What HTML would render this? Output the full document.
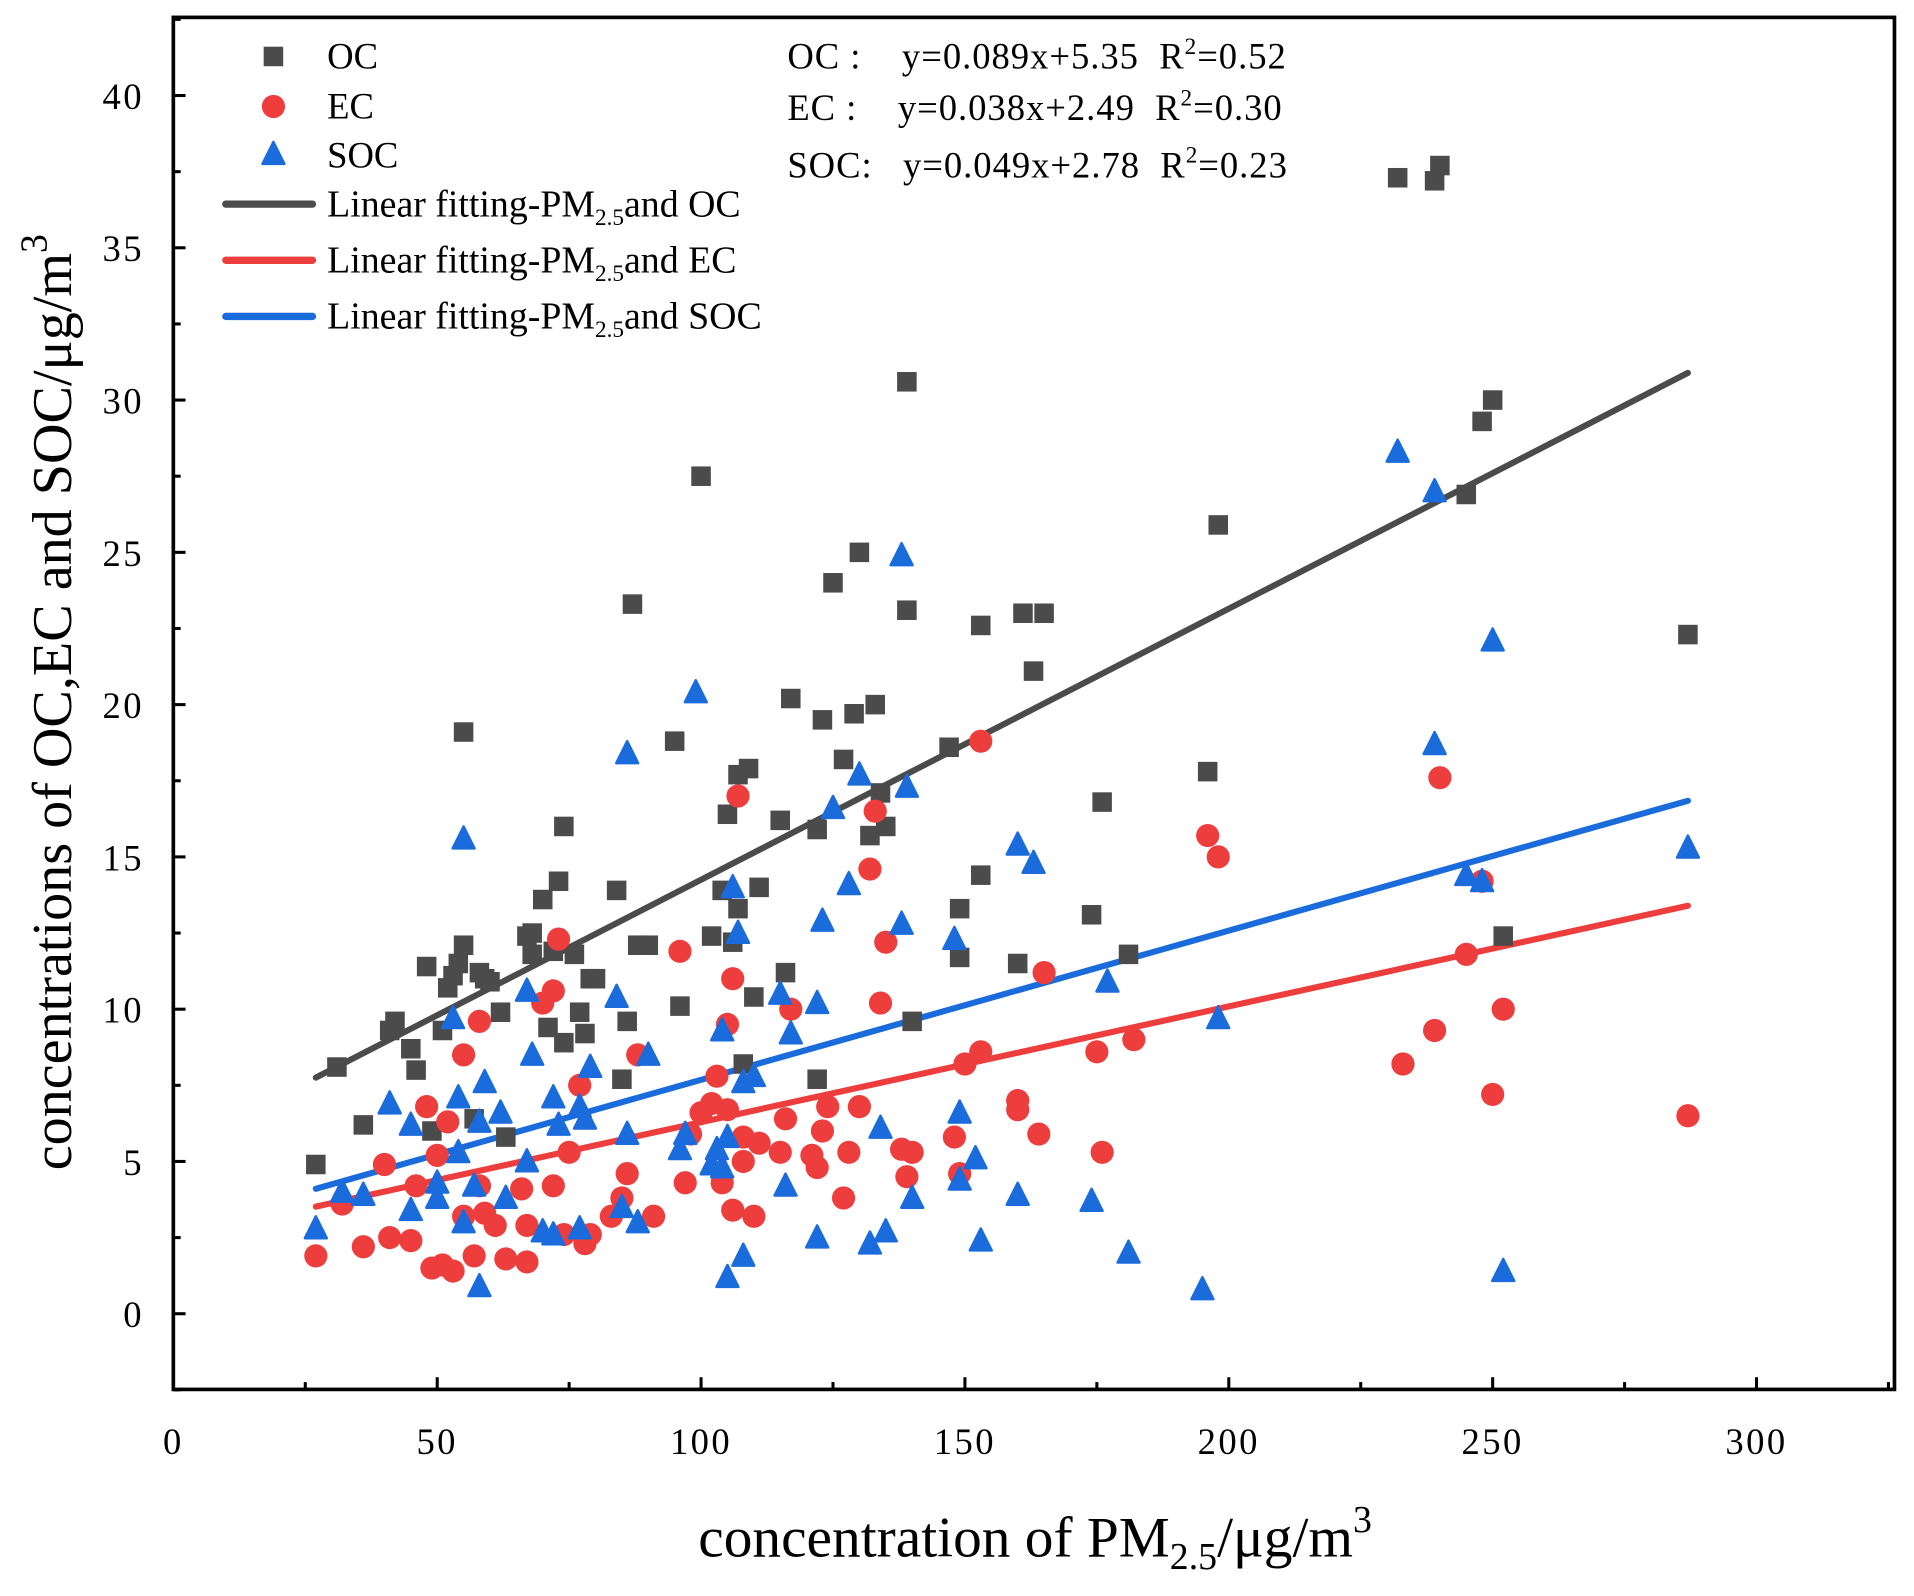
<!DOCTYPE html>
<html><head><meta charset="utf-8"><style>
html,body{margin:0;padding:0;background:#fff}
svg{display:block;font-family:"Liberation Serif",serif}
</style></head><body>
<svg id="chart" width="1914" height="1596" viewBox="0 0 1568 1307" xmlns="http://www.w3.org/2000/svg">
<g id="plot"></g>
</svg>
<script>
const ocX=[27,31,36,41,42,45,46,48,49,51,52,53,54,55,55,57,58,59,60,62,63,67,68,68,70,71,72,73,74,74,76,77,78,79,80,84,85,86,87,88,90,95,96,100,102,104,105,106,107,107,108,109,110,111,115,116,117,122,122,123,125,127,129,130,132,133,134,135,139,139,140,147,149,149,153,153,160,161,163,165,174,176,181,196,198,232,239,240,245,248,250,252,287];
const ocY=[4.9,8.1,6.2,9.3,9.6,8.7,8.0,11.4,6.0,9.3,10.7,11.1,11.5,12.1,19.1,6.4,11.2,11.0,10.9,9.9,5.8,12.4,11.8,12.5,13.6,9.4,11.9,14.2,8.9,16.0,11.8,9.9,9.2,11.0,11.0,13.9,7.7,9.6,23.3,12.1,12.1,18.8,10.1,27.5,12.4,13.9,16.4,12.2,13.3,17.7,8.2,17.9,10.4,14.0,16.2,11.2,20.2,15.9,7.7,19.5,24.0,18.2,19.7,25.0,15.7,20.0,17.1,16.0,30.6,23.1,9.6,18.6,13.3,11.7,22.6,14.4,11.5,23.0,21.1,23.0,13.1,16.8,11.8,17.8,25.9,37.3,37.2,37.7,26.9,29.3,30.0,12.4,22.3];
const ecX=[27,32,36,40,41,45,46,48,49,50,51,52,53,55,55,57,58,58,59,61,63,66,67,67,70,72,72,73,74,75,77,78,79,83,85,86,88,91,96,97,98,100,102,103,104,105,105,106,106,107,108,108,110,111,115,116,117,121,122,123,124,127,128,130,132,133,134,135,138,139,140,148,149,150,153,153,160,160,164,165,175,176,182,196,198,233,239,240,245,248,250,252,287];
const ecY=[1.9,3.6,2.2,4.9,2.5,2.4,4.2,6.8,1.5,5.2,1.6,6.3,1.4,8.5,3.2,1.9,9.6,4.2,3.3,2.9,1.8,4.1,1.7,2.9,10.2,4.2,10.6,12.3,2.6,5.3,7.5,2.3,2.6,3.2,3.8,4.6,8.5,3.2,11.9,4.3,5.9,6.6,6.9,7.8,4.3,6.7,9.5,11.0,3.4,17.0,5.0,5.8,3.2,5.6,5.3,6.4,10.0,5.2,4.8,6.0,6.8,3.8,5.3,6.8,14.6,16.5,10.2,12.2,5.4,4.5,5.3,5.8,4.6,8.2,18.8,8.6,7.0,6.7,5.9,11.2,8.6,5.3,9.0,15.7,15.0,8.2,9.3,17.6,11.8,14.2,7.2,10.0,6.5];
const socX=[27,32,36,41,45,45,50,50,53,54,54,55,55,57,58,59,58,62,63,67,67,68,70,72,72,73,77,77,78,79,84,85,86,86,88,90,96,97,99,102,103,104,104,105,105,106,107,108,108,110,115,116,117,122,122,123,125,128,130,132,134,135,138,138,139,140,148,149,149,152,153,160,160,163,174,177,181,195,198,232,239,239,245,248,250,252,287];
const socY=[2.8,4.0,3.9,6.9,3.4,6.2,3.8,4.3,9.7,5.3,7.1,15.6,3.0,4.2,6.3,7.6,0.9,6.6,3.8,10.6,5.0,8.5,2.7,7.1,2.6,6.2,6.8,2.8,6.4,8.1,10.4,3.5,5.9,18.4,3.0,8.5,5.4,5.9,20.4,4.9,5.4,9.3,4.8,5.8,1.2,14.0,12.5,7.6,1.9,7.8,10.5,4.2,9.2,2.5,10.2,12.9,16.6,14.1,17.7,2.3,6.1,2.7,24.9,12.8,17.3,3.8,12.3,4.4,6.6,5.1,2.4,15.4,3.9,14.8,3.7,10.9,2.0,0.8,9.7,28.3,27.0,18.7,14.4,14.2,22.1,1.4,15.3];
const fitSlopes=[0.089,0.038,0.049];
const fitIntercepts=[5.35,2.49,2.78];
const fitRange=[27,287];
const xTicks=[0,50,100,150,200,250,300];
const yTicks=[0,5,10,15,20,25,30,35,40];

const NS="http://www.w3.org/2000/svg";
const g=document.getElementById('plot');
const X=v=>142+v*4.3233;
const Y=v=>1076-v*24.95;
function el(t,a,txt){const e=document.createElementNS(NS,t);for(const k in a)e.setAttribute(k,a[k]);if(txt!==undefined)e.textContent=txt;g.appendChild(e);return e;}
const GR='#4b4b4b',RD='#ee3d3d',BL='#1a6bdb';
let f=el('rect',{x:142,y:14,width:1410,height:1124,fill:'none',stroke:'#000','stroke-width':3});

for(let v=0;v<=325;v+=25){const maj=v%50===0;const t=el('line',{x1:X(v),x2:X(v),y1:1138,y2:1138-(maj?10:6),stroke:'#000','stroke-width':2.5});
}
xTicks.forEach(v=>{const t=el('text',{x:X(v),y:1191,'font-size':30,'letter-spacing':2,'text-anchor':'middle'},String(v));
});
for(let v=-2.5;v<=42.5;v+=2.5){const maj=Math.abs(v%5)<0.01;const t=el('line',{x1:142,x2:142+(maj?10:6),y1:Y(v),y2:Y(v),stroke:'#000','stroke-width':2.5});
}
yTicks.forEach(v=>{const t=el('text',{x:118,y:Y(v)+11,'font-size':30,'letter-spacing':2,'text-anchor':'end'},String(v));
});
let xt=el('text',{x:848,y:1275,'font-size':47,'text-anchor':'middle'});
xt.innerHTML='concentration of PM<tspan font-size="31" dy="10">2.5</tspan><tspan dy="-10">/μg/m</tspan><tspan font-size="31" dy="-20">3</tspan>';

let yt=el('text',{x:0,y:0,'font-size':46,'text-anchor':'middle',transform:'translate(58,575) rotate(-90)'});
yt.innerHTML='concentrations of OC,EC and SOC/μg/m<tspan font-size="31" dy="-20">3</tspan>';

const cols=[GR,RD,BL];
fitSlopes.forEach((s,i)=>{const b=fitIntercepts[i];const l=el('line',{x1:X(fitRange[0]),y1:Y(s*fitRange[0]+b),x2:X(fitRange[1]),y2:Y(s*fitRange[1]+b),stroke:cols[i],'stroke-width':5,'stroke-linecap':'round'});
});
function sq(x,y){const r=el('rect',{x:x-8,y:y-8,width:16,height:16,fill:GR});}
function ci(x,y){const r=el('circle',{cx:x,cy:y,r:9.5,fill:RD});}
function tr(x,y){const r=el('polygon',{points:`${x},${y-10} ${x+9},${y+8} ${x-9},${y+8}`,fill:BL,stroke:BL,'stroke-width':2,'stroke-linejoin':'round'});}
ocX.forEach((x,i)=>sq(X(x),Y(ocY[i])));
ecX.forEach((x,i)=>ci(X(x),Y(ecY[i])));
socX.forEach((x,i)=>tr(X(x),Y(socY[i])));
sq(224,46);ci(224,87);tr(224,126);
[['OC',56],['EC',97],['SOC',137]].forEach(([t,y])=>{const e=el('text',{x:268,y:y,'font-size':30},t);});
[['OC',167],['EC',213],['SOC',259]].forEach(([t,y],i)=>{
const l=el('line',{x1:185,x2:256,y1:y,y2:y,stroke:cols[i],'stroke-width':6,'stroke-linecap':'round'});
const e=el('text',{x:268,y:y+10,'font-size':31});e.innerHTML='Linear fitting-PM<tspan font-size="19" dy="7">2.5</tspan><tspan dy="-7">and '+t+'</tspan>';
});
[['OC :&#160;&#160;&#160;&#160;y=0.089x+5.35&#160;&#160;R','=0.52',56],['EC :&#160;&#160;&#160;&#160;y=0.038x+2.49&#160;&#160;R','=0.30',98],['SOC:&#160;&#160;&#160;y=0.049x+2.78&#160;&#160;R','=0.23',145]].forEach(([a,b,y])=>{
const e=el('text',{x:645,y:y,'font-size':30,'letter-spacing':0.8});e.innerHTML=a+'<tspan font-size="19" dy="-12">2</tspan><tspan dy="12">'+b+'</tspan>';
});
</script>
</body></html>
